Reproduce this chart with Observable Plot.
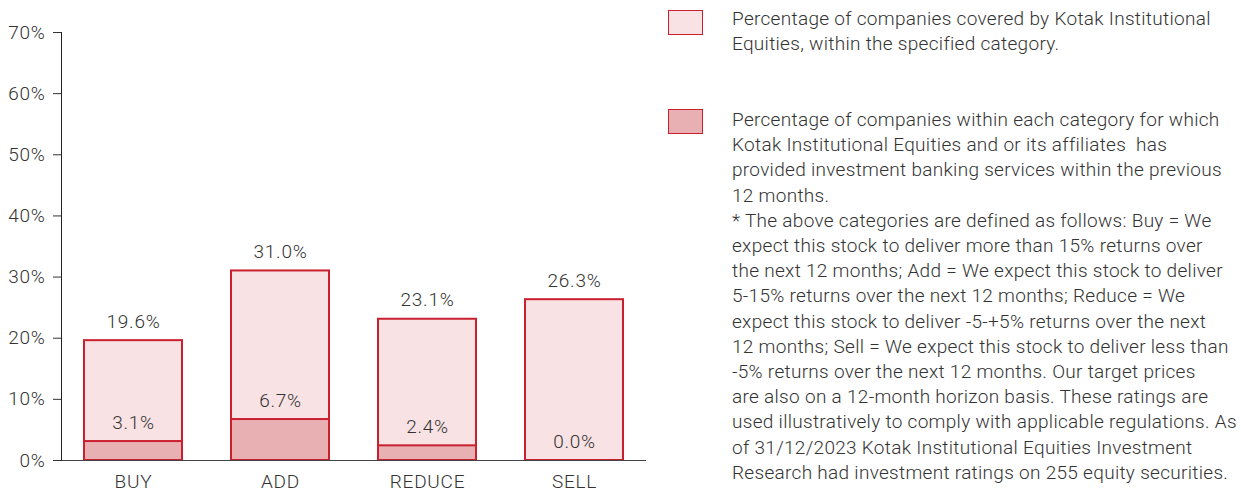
<!DOCTYPE html>
<html>
<head>
<meta charset="utf-8">
<script src="https://cdn.jsdelivr.net/npm/d3@7"></script>
<script src="https://cdn.jsdelivr.net/npm/@observablehq/plot@0.6"></script>
<style>
  body { margin: 0; background: #fff; font-family: Roboto, "Noto Sans", sans-serif; font-weight: 300; overflow: hidden; }
  #wrap { position: relative; width: 1241px; height: 491px; }
  #chart { position: absolute; left: 0; top: 0; }
  #chart svg { overflow: visible; }
  #chart svg text { letter-spacing: 0.75px; }
  .leg { position: absolute; left: 668px; color: #333; font-size: 19px; line-height: 25.2px; letter-spacing: 0.3px; }
  .sw { position: absolute; left: 0; width: 35px; height: 25px; border: 1.5px solid #c9202f; box-sizing: border-box; }
  .tx { position: absolute; left: 64px; white-space: nowrap; }
</style>
</head>
<body>
<div id="wrap">
  <div id="chart"></div>
  <div class="leg" style="top:0">
    <div class="sw" style="top:10px; background:#f9e2e4"></div>
    <div class="tx" style="top:6px">Percentage of companies covered by Kotak Institutional<br>Equities, within the specified category.</div>
  </div>
  <div class="leg" style="top:0">
    <div class="sw" style="top:109px; background:#e8b0b3"></div>
    <div class="tx" style="top:107px">Percentage of companies within each category for which<br>Kotak Institutional Equities and or its affiliates&nbsp; has<br>provided investment banking services within the previous<br>12 months.<br>* The above categories are defined as follows: Buy = We<br>expect this stock to deliver more than 15% returns over<br>the next 12 months; Add = We expect this stock to deliver<br>5-15% returns over the next 12 months; Reduce = We<br>expect this stock to deliver -5-+5% returns over the next<br>12 months; Sell = We expect this stock to deliver less than<br>-5% returns over the next 12 months. Our target prices<br>are also on a 12-month horizon basis. These ratings are<br>used illustratively to comply with applicable regulations. As<br>of 31/12/2023 Kotak Institutional Equities Investment<br>Research had investment ratings on 255 equity securities.</div>
  </div>
</div>
<script>
const categories = ["BUY", "ADD", "REDUCE", "SELL"];
const coverage = [19.6, 31.0, 23.1, 26.3];
const ibServices = [3.1, 6.7, 2.4, 0.0];
const yTicks = [0, 10, 20, 30, 40, 50, 60, 70];

const rows = categories.map((c, i) => ({cat: c, cov: coverage[i], ib: ibServices[i]}));
const stroke = "#c9202f";
const txt = "#333";

const plot = Plot.plot({
  width: 660,
  height: 491,
  marginLeft: 61,
  marginRight: 14,
  marginTop: 32,
  marginBottom: 31,
  style: {fontFamily: "Roboto, sans-serif", fontSize: "19px", fontWeight: 300, color: txt},
  x: {domain: categories, paddingInner: 0.333, paddingOuter: 0.156, label: null, tickSize: 0, tickPadding: 14},
  y: {domain: [0, 70], ticks: yTicks, tickFormat: d => d + "%", label: null, tickSize: 8, tickPadding: 8},
  marks: [
    Plot.barY(rows, {x: "cat", y: "cov", fill: "#f9e2e4", stroke: stroke, strokeWidth: 2}),
    Plot.barY(rows, {x: "cat", y: "ib", fill: "#e8b0b3", stroke: stroke, strokeWidth: 2}),
    Plot.ruleY([0], {stroke: "#444", strokeWidth: 1}),
    Plot.frame({anchor: "left", stroke: "#222", strokeWidth: 1}),
    Plot.text(rows, {x: "cat", y: "cov", text: d => d.cov.toFixed(1) + "%", dy: -19, fill: txt, fontSize: 19, fontWeight: 300}),
    Plot.text(rows, {x: "cat", y: "ib", text: d => d.ib.toFixed(1) + "%", dy: -19, fill: txt, fontSize: 19, fontWeight: 300})
  ]
});
document.getElementById("chart").appendChild(plot);
</script>
</body>
</html>
